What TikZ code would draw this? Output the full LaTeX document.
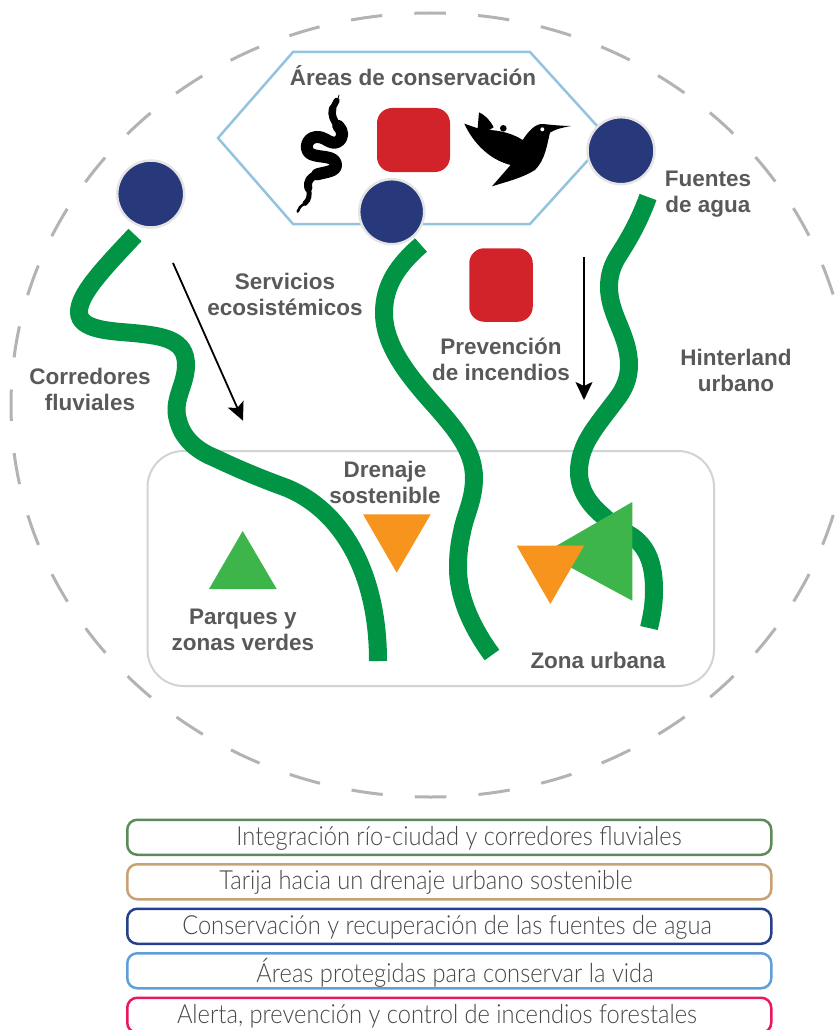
\documentclass[tikz,border=0pt]{standalone}
\usepackage{fontspec}
\setmainfont{Liberation Sans}
\newfontfamily\lightfont[FakeStretch=0.9]{Lato Light}
\usetikzlibrary{arrows.meta}
\definecolor{riv}{HTML}{009444}
\definecolor{navy}{HTML}{27397A}
\definecolor{redb}{HTML}{D2232A}
\definecolor{orng}{HTML}{F7941E}
\definecolor{grn}{HTML}{3DB54A}
\definecolor{lab}{HTML}{58595B}
\definecolor{hexc}{HTML}{94C3DF}
\definecolor{dashc}{HTML}{B1B3B6}
\definecolor{zonec}{HTML}{D1D3D4}
\definecolor{k1c}{HTML}{5D8A5A}
\definecolor{k2c}{HTML}{C8A274}
\definecolor{k3c}{HTML}{27408B}
\definecolor{k4c}{HTML}{5F9ED6}
\definecolor{k5c}{HTML}{E8195A}
\tikzset{
 river/.style={draw=riv,line width=18pt},
 src/.style={circle,fill=navy,draw=black!10,line width=2.5pt,minimum size=67pt,inner sep=0pt},
 redbox/.style={fill=redb,rounded corners=15pt,inner sep=0pt},
 lbl/.style={font=\bfseries\fontsize{22.5}{26}\selectfont,text=lab,align=center,inner sep=0pt},
 legbox/.style={draw,line width=2.5pt,rounded corners=10pt,minimum width=644pt,minimum height=35pt,inner sep=0pt,anchor=north west},
 legtxt/.style={font=\lightfont\fontsize{26.3}{28}\selectfont,text=black!72,inner sep=0pt},
 flow/.style={draw=black,line width=1.8pt,-{Stealth[length=18pt,width=17pt,inset=4pt]}}
}
\begin{document}
\begin{tikzpicture}[x=1pt,y=-1pt]
\useasboundingbox (0,0) rectangle (839,1030);
\clip (0,0) rectangle (839,1030);
% dashed outer circle
\draw[dashc,line width=3pt,dash pattern=on 31.5pt off 32.25pt,dash phase=15.75pt] (430.5,405) ellipse [x radius=419.5,y radius=392];
% hexagon
\draw[hexc,line width=2.5pt,line join=miter] (218,138)--(293,52)--(530,52)--(608,138)--(530,224)--(293,224)--cycle;
% urban zone
\draw[zonec,line width=2pt,rounded corners=36pt] (147.5,451) rectangle (714,686);
% red boxes
\node[redbox,minimum width=73pt,minimum height=64pt] (r1) at (413.5,140) {};
\node[redbox,minimum width=63.5pt,minimum height=73.5pt] (r2) at (501,285) {};
% snake
\begin{scope}[shift={(210,40)},x=0.3333pt,y=-0.3333pt,black,line cap=round,line join=round]
\draw[line width=0.8pt] (387,165)--(383,180);
\draw[line width=6pt] (380,182)--(368,205);
\draw[line width=7.5pt] (368,205) .. controls (362,225) and (372,245) .. (385,258);
\draw[line width=12pt] (385,258) .. controls (400,272) and (402,295) .. (382,306) .. controls (360,316) and (345,288) .. (318,291) .. controls (285,295) and (283,335) .. (305,343) .. controls (330,354) and (372,345) .. (378,372) .. controls (382,395) and (345,396) .. (322,403);
\draw[line width=8pt] (322,403) .. controls (300,410) and (290,425) .. (295,445);
\draw[line width=5pt] (295,445) .. controls (300,465) and (298,478) .. (285,490);
\draw[line width=2.5pt] (285,490) .. controls (272,498) and (265,505) .. (263,515);
\end{scope}
% hummingbird
\begin{scope}[shift={(210,40)},x=0.3333pt,y=-0.3333pt]
\fill[black] (763,251) -- (803,265) -- (807,217) .. controls (825,225) and (840,240) .. (851,262) -- (838,270) .. controls (880,272) and (915,285) .. (938,300) .. controls (955,275) and (975,250) .. (1000,252) .. controls (1025,255) and (1060,258) .. (1083,258) .. controls (1060,262) and (1035,268) .. (1020,278) .. controls (1010,320) and (1005,360) .. (975,390) .. controls (935,415) and (890,425) .. (846,439) -- (902,375) .. controls (840,360) and (790,310) .. (763,251) -- cycle;
\fill[black] (880,265) circle [radius=10];
\fill[white] (997,268) circle [radius=6];
\end{scope}
% rivers
\coordinate (a0) at (135,235);
\coordinate (a1) at (378,661);
\coordinate (b0) at (421,245);
\coordinate (b1) at (492,655);
\coordinate (c0) at (648,197);
\coordinate (c1) at (649,628);
\draw[river] (a0) .. controls (100,272) and (79,295) .. (79,312) .. controls (79,330) and (110,331) .. (133,333) .. controls (165,336) and (186,340) .. (186,365) .. controls (186,385) and (172,400) .. (178,420) .. controls (182,437) and (195,450) .. (215,458) .. controls (240,470) and (265,480) .. (287,488) .. controls (340,510) and (378,570) .. (a1);
\draw[river] (b0) .. controls (398,265) and (384,285) .. (384,313) .. controls (384,345) and (408,375) .. (430,400) .. controls (455,428) and (474,450) .. (474,478) .. controls (474,500) and (465,515) .. (462,532) .. controls (459,545) and (458,555) .. (458,568) .. controls (458,600) and (475,632) .. (b1);
\draw[river] (c0) .. controls (638,225) and (625,245) .. (620,253) .. controls (612,265) and (609,275) .. (609,287) .. controls (609,315) and (629,335) .. (629,365) .. controls (629,385) and (618,397) .. (616,400) .. controls (595,428) and (579,445) .. (579,472) .. controls (579,490) and (590,505) .. (602,515) .. controls (612,525) and (622,530) .. (633,537) .. controls (648,548) and (654,565) .. (654,590) .. controls (654,605) and (652,615) .. (c1);
% sources
\node[src] (s1) at (150.7,194) {};
\node[src,minimum size=65pt] (s2) at (391.7,211.7) {};
\node[src] (s3) at (621,150.7) {};
% triangles
\fill[grn] (242.7,531)--(209,589)--(276.7,589)--cycle;
\fill[orng] (363,514.3)--(430.7,514.3)--(396.7,572.7)--cycle;
\fill[grn] (632.3,502)--(632.3,600.7)--(544,553)--cycle;
\fill[orng] (516.7,545.7)--(584,545.7)--(550.3,604)--cycle;
% arrows
\coordinate (f1) at (173,263);
\coordinate (f2) at (243,420.7);
\coordinate (g1) at (584,257);
\coordinate (g2) at (584,400);
\draw[flow] (f1)--(f2);
\draw[flow] (g1)--(g2);
% labels
\node[lbl] (l1) at (413,76) {Áreas de conservación};
\node[lbl] (l2) at (708,194) {Fuentes\\de agua};
\node[lbl] (l3) at (285,294) {Servicios\\ecosistémicos};
\node[lbl] (l4) at (501,359) {Prevención\\de incendios};
\node[lbl] (l5) at (736,370) {Hinterland\\urbano};
\node[lbl] (l6) at (90,389) {Corredores\\fluviales};
\node[lbl] (l7) at (385,482) {Drenaje\\sostenible};
\node[lbl] (l8) at (243,630) {Parques y\\zonas verdes};
\node[lbl] (l9) at (598,660) {Zona urbana};
% legend
\node[legbox,draw=k1c] (k1) at (126,818.5) {};
\node[legbox,draw=k2c] (k2) at (126,863) {};
\node[legbox,draw=k3c] (k3) at (126,907.5) {};
\node[legbox,draw=k4c] (k4) at (126,952) {};
\node[legbox,draw=k5c] (k5) at (126,996.5) {};
\node[legtxt] (t1) at (459,838.5) {Integración río-ciudad y corredores fluviales};
\node[legtxt] (t2) at (426,882) {Tarija hacia un drenaje urbano sostenible};
\node[legtxt] (t3) at (447,927) {Conservación y recuperación de las fuentes de agua};
\node[legtxt] (t4) at (455,973) {Áreas protegidas para conservar la vida};
\node[legtxt] (t5) at (437,1016) {Alerta, prevención y control de incendios forestales};
\end{tikzpicture}
\end{document}
